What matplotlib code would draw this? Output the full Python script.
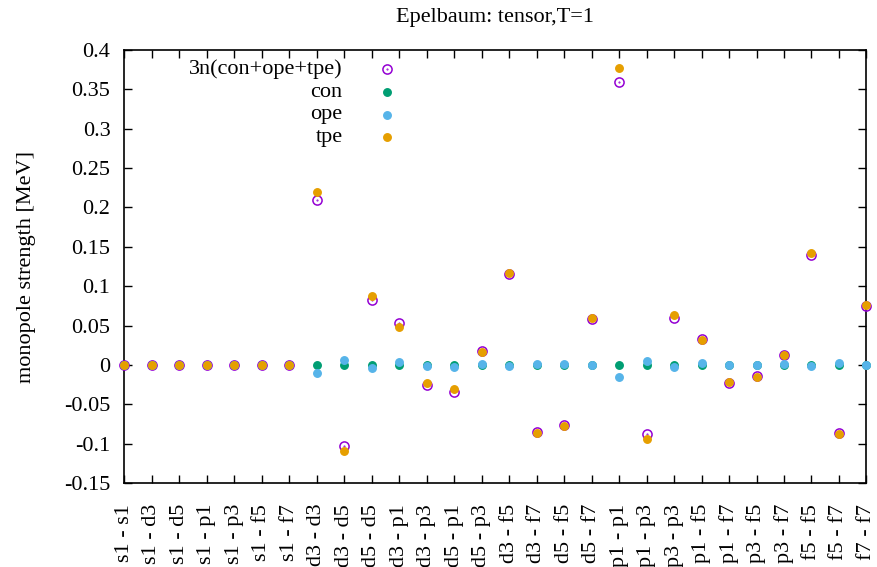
import matplotlib.pyplot as plt
import numpy as np

plt.rcParams['font.family'] = ['Liberation Serif', 'DejaVu Serif']

pairs = ['s1 - s1', 's1 - d3', 's1 - d5', 's1 - p1', 's1 - p3', 's1 - f5', 's1 - f7',
         'd3 - d3', 'd3 - d5', 'd5 - d5', 'd3 - p1', 'd3 - p3', 'd5 - p1', 'd5 - p3',
         'd3 - f5', 'd3 - f7', 'd5 - f5', 'd5 - f7', 'p1 - p1', 'p1 - p3', 'p3 - p3',
         'p1 - f5', 'p1 - f7', 'p3 - f5', 'p3 - f7', 'f5 - f5', 'f5 - f7', 'f7 - f7']

total = [0, 0, 0, 0, 0, 0, 0,
         0.209, -0.103, 0.083, 0.053, -0.025, -0.034, 0.018,
         0.115, -0.085, -0.076, 0.058, 0.360, -0.088, 0.060,
         0.033, -0.023, -0.014, 0.013, 0.140, -0.086, 0.075]
con = [0, 0, 0, 0, 0, 0, 0,
       0, 0, 0, 0, 0, 0, 0,
       0, 0, 0, 0, 0, 0, 0,
       0, 0, 0, 0, 0, 0, 0]
ope = [0, 0, 0, 0, 0, 0, 0,
       -0.0105, 0.0063, -0.004, 0.004, -0.0017, -0.0029, 0.0015,
       -0.0017, 0.0015, 0.001, 0.0, -0.0155, 0.0047, -0.002,
       0.002, 0.0, 0.0, 0.001, -0.0017, 0.002, 0.0]
tpe = [0, 0, 0, 0, 0, 0, 0,
       0.220, -0.109, 0.088, 0.048, -0.023, -0.031, 0.0165,
       0.117, -0.086, -0.077, 0.059, 0.377, -0.0935, 0.063,
       0.032, -0.022, -0.015, 0.012, 0.142, -0.0875, 0.076]

labels = ['3n(con+ope+tpe)', 'con', 'ope', 'tpe']
colors = ['#9400D3', '#009E73', '#56B4E9', '#E69F00']
FS = 16

fig = plt.figure(figsize=(8.77, 5.67), dpi=100)
ax = fig.add_axes([0.1417, 0.1481, 0.8463, 0.7637])

x = np.arange(len(pairs))
ax.plot(x, total, 'o', mfc='none', mec=colors[0], mew=1.1, ms=6.6, ls='none', clip_on=False, zorder=3)
ax.plot(x, total, '.', color=colors[0], ms=1.0, ls='none', clip_on=False, zorder=3)
for vals, c in zip([con, ope, tpe], colors[1:]):
    ax.plot(x, vals, 'o', color=c, mec=c, ms=5.4, ls='none', clip_on=False, zorder=4)

# legend drawn by hand: text right aligned, marker after
for i, (lab, c) in enumerate(zip(labels, colors)):
    yy = 0.955 - i * 0.0523
    ax.text(0.294, yy, lab, transform=ax.transAxes, ha='right', va='center', fontsize=FS)
    if i == 0:
        ax.plot([0.354], [yy], 'o', mfc='none', mec=c, mew=1.1, ms=6.6, transform=ax.transAxes)
        ax.plot([0.354], [yy], '.', color=c, ms=1.0, transform=ax.transAxes)
    else:
        ax.plot([0.354], [yy], 'o', color=c, ms=5.4, transform=ax.transAxes)

ax.set_xlim(0, len(pairs) - 1)
ax.set_ylim(-0.15, 0.4)
ax.set_xticks(x)
ax.set_xticklabels(pairs, rotation=90, fontsize=FS)
yt = np.arange(-0.15, 0.4001, 0.05)
ax.set_yticks(yt)
ax.set_yticklabels(['%g' % round(v, 2) for v in yt], fontsize=FS)
ax.tick_params(direction='in', length=6, width=1, top=True, right=True)
ax.tick_params(axis='x', pad=15)
ax.tick_params(axis='y', pad=10)
for s in ax.spines.values():
    s.set_linewidth(1.2)

ax.set_ylabel('monopole strength [MeV]', fontsize=FS, labelpad=20)
ax.set_title('Epelbaum: tensor,T=1', fontsize=FS, pad=20)

fig.savefig('out.png', dpi=100)
